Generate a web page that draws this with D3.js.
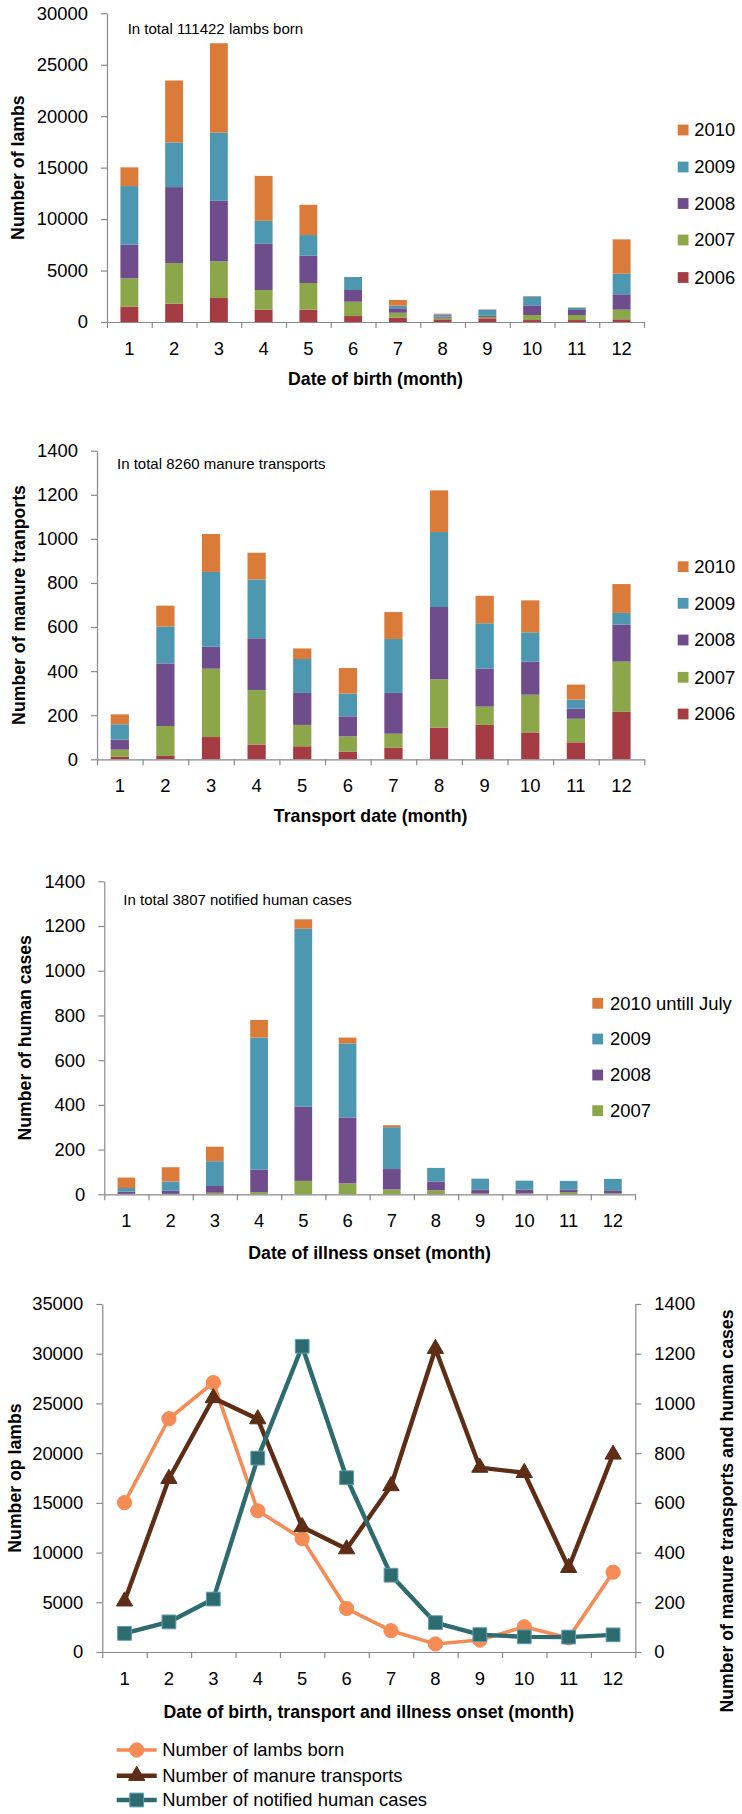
<!DOCTYPE html>
<html><head><meta charset="utf-8">
<script src="https://cdn.jsdelivr.net/npm/d3@7"></script>
<style>
body{margin:0;background:#fff}
svg{display:block}
text{font-family:"Liberation Sans",Arial,sans-serif;fill:#000}
</style>
</head><body>
<svg id="c" width="742" height="1814"></svg>
<script>
// ---------- DATA ----------
const months = ["1","2","3","4","5","6","7","8","9","10","11","12"];

// Chart 1: lambs born per month, by year
const lambYears = ["2006","2007","2008","2009","2010"];
const lambs2006 = [1500,1780,2330,1200,1200,580,420,260,360,190,190,260];
const lambs2007 = [2740,3950,3560,1910,2590,1390,480,160,130,490,490,940];
const lambs2008 = [3270,7380,5890,4490,2650,1140,430,100,120,940,490,1490];
const lambs2009 = [5700,4340,6630,2240,2010,1260,260,220,590,870,220,2000];
const lambs2010 = [1820,6020,8680,4360,2940,0,550,70,30,40,30,3340];

// Chart 2: manure transports per month, by year
const manureYears = ["2006","2007","2008","2009","2010"];
const manure2006 = [11,15,101,67,59,35,53,144,156,122,77,215];
const manure2007 = [33,136,310,247,97,69,63,219,83,171,107,228];
const manure2008 = [45,284,100,235,145,91,185,328,172,150,46,168];
const manure2009 = [70,167,339,267,154,103,245,340,206,133,41,53];
const manure2010 = [45,95,172,121,48,116,122,189,125,145,68,131];

// Chart 3: human cases per month, by year
const humanYears = ["2007","2008","2009","2010 untill July"];
const human2007 = [2,2,7,10,60,49,22,18,3,4,10,4];
const human2008 = [10,14,30,100,332,295,91,39,18,17,11,14];
const human2009 = [16,41,111,591,796,331,187,61,49,40,39,51];
const human2010 = [47,64,65,79,42,26,9,0,0,0,0,0];

// Chart 4: monthly totals
const lambsBorn = [15020,23460,27090,14200,11390,4370,2140,810,1200,2530,1420,8030];
const manureTransports = [204,697,1022,937,503,414,668,1220,742,721,339,795];
const humanCases = [75,121,213,780,1230,701,309,118,70,61,60,69];

const lambTicks = [0,5000,10000,15000,20000,25000,30000];
const countTicks = [0,200,400,600,800,1000,1200,1400];
const lineLeftTicks = [0,5000,10000,15000,20000,25000,30000,35000];

// ---------- STYLE ----------
const yearColors = {"2006":"#A53C44","2007":"#8CA74A","2008":"#6F4C8B","2009":"#4D97B0","2010":"#DA7B3A","2010 untill July":"#DA7B3A"};
const axisColor = "#8a8a8a";
const FONT_TICK = "18.4px";
const FONT_TITLE = "17.7px";

const svg = d3.select("#c");
svg.append("rect").attr("width",742).attr("height",1814).attr("fill","#fff");

function styleAxis(g){
  g.attr("font-family",null).attr("font-size",null);
  g.selectAll("path.domain").attr("stroke",axisColor).attr("stroke-width",1.2);
  g.selectAll(".tick line").attr("stroke",axisColor).attr("stroke-width",1.2);
  g.selectAll(".tick text").style("font-size",FONT_TICK).attr("fill","#000");
}

function xAxisFrame(x0,x1,yZero,labelScale){
  const xl = d3.scaleLinear().domain([0,12]).range([x0,x1]);
  svg.append("g").attr("transform",`translate(0,${yZero})`)
    .call(d3.axisBottom(xl).tickValues(d3.range(0,13)).tickFormat("").tickSize(6).tickSizeOuter(0))
    .call(styleAxis);
  svg.append("g").selectAll("text").data(months).join("text")
    .attr("x",d=>labelScale(d)+(labelScale.bandwidth?labelScale.bandwidth()/2:0))
    .attr("y",yZero+26.5).attr("dy","0.35em").attr("text-anchor","middle")
    .style("font-size",FONT_TICK).text(d=>d);
}

function stackedChart(cfg){
  const x = d3.scaleBand().domain(months).range([cfg.x0,cfg.x1]).paddingInner(0.6).paddingOuter(0.3);
  const y = d3.scaleLinear().domain([0,cfg.max]).range([cfg.yZero,cfg.yTop]);
  const rows = months.map((m,i)=>{const o={month:m}; cfg.keys.forEach((k,j)=>o[k]=cfg.series[j][i]); return o;});
  const stacked = d3.stack().keys(cfg.keys)(rows);
  svg.append("g").selectAll("g").data(stacked).join("g")
    .attr("fill",d=>yearColors[d.key])
    .selectAll("rect").data(d=>d).join("rect")
    .attr("x",d=>x(d.data.month)).attr("width",x.bandwidth())
    .attr("y",d=>y(d[1])).attr("height",d=>Math.max(0,y(d[0])-y(d[1])));
  // y axis
  svg.append("g").attr("transform",`translate(${cfg.x0},0)`)
    .call(d3.axisLeft(y).tickValues(cfg.ticks).tickSize(6).tickSizeOuter(0).tickPadding(13).tickFormat(d3.format("d")))
    .call(styleAxis);
  xAxisFrame(cfg.x0,cfg.x1,cfg.yZero,x);
  // titles
  svg.append("text").attr("transform",`translate(${cfg.yTitleX},${(cfg.yTop+cfg.yZero)/2}) rotate(-90)`)
    .attr("text-anchor","middle").attr("dy","0.35em").style("font-size",FONT_TITLE).style("font-weight","bold").text(cfg.yTitle);
  svg.append("text").attr("x",(cfg.x0+cfg.x1)/2).attr("y",cfg.xTitleY).attr("dy","0.35em")
    .attr("text-anchor","middle").style("font-size",FONT_TITLE).style("font-weight","bold").text(cfg.xTitle);
  svg.append("text").attr("x",cfg.noteX).attr("y",cfg.noteY).attr("dy","0.35em")
    .style("font-size","15px").text(cfg.note);
  // legend (reverse order, top = last key)
  const leg = svg.append("g");
  const keysRev = cfg.keys.slice().reverse();
  keysRev.forEach((k,i)=>{
    const cy = cfg.legendYs[i];
    leg.append("rect").attr("x",cfg.legendX).attr("y",cy-5.4).attr("width",10.8).attr("height",10.8).attr("fill",yearColors[k]);
    leg.append("text").attr("x",cfg.legendX+cfg.legendGap).attr("y",cy).attr("dy","0.35em").style("font-size",FONT_TICK).text(k);
  });
}

stackedChart({
  x0:107,x1:644,yTop:13.3,yZero:322,max:30000,ticks:lambTicks,
  keys:lambYears,series:[lambs2006,lambs2007,lambs2008,lambs2009,lambs2010],
  yTitle:"Number of lambs",yTitleX:18,xTitle:"Date of birth (month)",xTitleY:379,
  note:"In total 111422 lambs born",noteX:127.7,noteY:28.3,
  legendX:677.7,legendGap:16.6,legendYs:[130,167,203.5,240,277.5]
});

stackedChart({
  x0:97,x1:644.3,yTop:450.7,yZero:759.3,max:1400,ticks:countTicks,
  keys:manureYears,series:[manure2006,manure2007,manure2008,manure2009,manure2010],
  yTitle:"Number of manure tranports",yTitleX:18.3,xTitle:"Transport date (month)",xTitleY:816,
  note:"In total 8260 manure transports",noteX:117,noteY:464,
  legendX:677.7,legendGap:16.6,legendYs:[566.7,603.3,640,677.3,714]
});

stackedChart({
  x0:104.3,x1:635,yTop:881.3,yZero:1194.3,max:1400,ticks:countTicks,
  keys:humanYears,series:[human2007,human2008,human2009,human2010],
  yTitle:"Number of human cases",yTitleX:25,xTitle:"Date of illness onset (month)",xTitleY:1252.5,
  note:"In total 3807 notified human cases",noteX:123.3,noteY:900,
  legendX:592.3,legendGap:17.7,legendYs:[1003.3,1039,1075,1110.7]
});

// ---------- Chart 4: lines ----------
(function(){
  const x0=102.3,x1=635.3,yTop=1304,yZero=1652;
  const x = d3.scalePoint().domain(months).range([x0,x1]).padding(0.5);
  const xb = d3.scaleBand().domain(months).range([x0,x1]);
  const yL = d3.scaleLinear().domain([0,35000]).range([yZero,yTop]);
  const yR = d3.scaleLinear().domain([0,1400]).range([yZero,yTop]);

  svg.append("g").attr("transform",`translate(${x0},0)`)
    .call(d3.axisLeft(yL).tickValues(lineLeftTicks).tickSize(6).tickSizeOuter(0).tickPadding(13).tickFormat(d3.format("d")))
    .call(styleAxis);
  svg.append("g").attr("transform",`translate(${x1},0)`)
    .call(d3.axisRight(yR).tickValues(countTicks).tickSize(6).tickSizeOuter(0).tickPadding(13).tickFormat(d3.format("d")))
    .call(styleAxis);
  xAxisFrame(x0,x1,yZero,xb);

  const series = [
    {name:"Number of lambs born",vals:lambsBorn,y:yL,color:"#F58B55",width:3.6,sym:d3.symbolCircle,size:160,stroke:"#F58B55"},
    {name:"Number of manure transports",vals:manureTransports,y:yR,color:"#5E2D15",width:4.4,sym:d3.symbolTriangle,size:115,stroke:"#5E2D15"},
    {name:"Number of notified human cases",vals:humanCases,y:yR,color:"#2E6B6E",width:4.4,sym:d3.symbolSquare,size:190,stroke:"#5C9DB2"}
  ];
  series.forEach(s=>{
    const line = d3.line().x((d,i)=>x(months[i])).y(d=>s.y(d));
    svg.append("path").datum(s.vals).attr("d",line).attr("fill","none")
      .attr("stroke",s.color).attr("stroke-width",s.width).attr("stroke-linejoin","round");
    svg.append("g").selectAll("path").data(s.vals).join("path")
      .attr("transform",(d,i)=>`translate(${x(months[i])},${s.y(d)})`)
      .attr("d",d3.symbol(s.sym,s.size)).attr("fill",s.color).attr("stroke",s.stroke).attr("stroke-width",1);
  });

  svg.append("text").attr("transform",`translate(15,${(yTop+yZero)/2}) rotate(-90)`)
    .attr("text-anchor","middle").attr("dy","0.35em").style("font-size",FONT_TITLE).style("font-weight","bold").text("Number op lambs");
  svg.append("text").attr("transform",`translate(726.7,${(yTop+yZero)/2+33}) rotate(-90)`)
    .attr("text-anchor","middle").attr("dy","0.35em").style("font-size",FONT_TITLE).style("font-weight","bold").text("Number of manure transports and human cases");
  svg.append("text").attr("x",(x0+x1)/2).attr("y",1711.7).attr("dy","0.35em")
    .attr("text-anchor","middle").style("font-size",FONT_TITLE).style("font-weight","bold").text("Date of birth, transport and illness onset (month)");

  const legYs=[1750,1775.7,1800];
  series.forEach((s,i)=>{
    const cy=legYs[i];
    svg.append("line").attr("x1",116.7).attr("x2",156.7).attr("y1",cy).attr("y2",cy)
      .attr("stroke",s.color).attr("stroke-width",s.width);
    svg.append("path").attr("transform",`translate(136.7,${cy})`).attr("d",d3.symbol(s.sym,s.size))
      .attr("fill",s.color).attr("stroke",s.stroke).attr("stroke-width",1);
    svg.append("text").attr("x",162.3).attr("y",cy).attr("dy","0.35em").style("font-size",FONT_TICK).text(s.name);
  });
})();
</script>
</body></html>
